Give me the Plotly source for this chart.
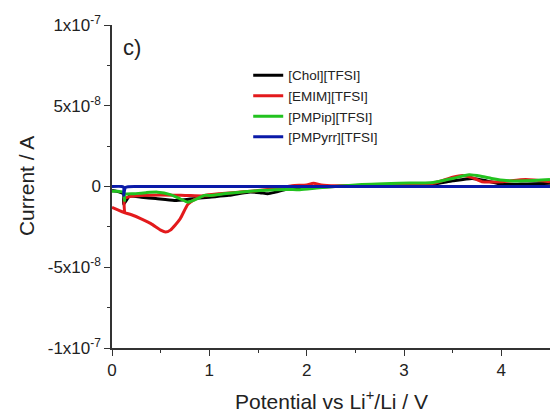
import plotly.graph_objects as go

# ---- data (V, A) ; None separates scan branches ----
chol_x = [0.0, 0.05, 0.10, 0.12, 0.12, 0.18, 0.30, 0.45, 0.64, 0.80, 1.00, 1.20, 1.40, 1.52, 1.60, 1.68, 1.80, 2.00, 2.30, 2.60, 3.00, 3.30, 3.50, 3.70, 3.85, 4.00, 4.20, 4.50]
chol_y = [-0.25e-8, -0.3e-8, -0.4e-8, -0.45e-8, -1.1e-8, -0.6e-8, -0.66e-8, -0.75e-8, -0.86e-8, -0.78e-8, -0.66e-8, -0.55e-8, -0.35e-8, -0.38e-8, -0.45e-8, -0.35e-8, -0.15e-8, -0.05e-8, 0.0, 0.05e-8, 0.1e-8, 0.15e-8, 0.35e-8, 0.5e-8, 0.35e-8, 0.15e-8, 0.15e-8, 0.2e-8]

emim_x = [0.0, 0.06, 0.12, 0.20, 0.30, 0.40, 0.50, 0.55, 0.60, 0.70, 0.78, 0.85, 0.95, 1.10, 1.30, 1.50, 1.70, 1.85, 2.00, 2.07, 2.15, 2.30, 2.60, 3.00, 3.30, 3.50, 3.60, 3.70, 3.80, 4.00, 4.25, 4.50,
          None, 0.13, 0.13, 0.20, 0.30, 0.50, 0.75, 0.95, 1.10]
emim_y = [-1.3e-8, -1.45e-8, -1.6e-8, -1.75e-8, -2.0e-8, -2.3e-8, -2.7e-8, -2.82e-8, -2.7e-8, -2.0e-8, -1.1e-8, -0.8e-8, -0.55e-8, -0.45e-8, -0.35e-8, -0.25e-8, -0.1e-8, 0.05e-8, 0.1e-8, 0.2e-8, 0.1e-8, 0.05e-8, 0.05e-8, 0.1e-8, 0.2e-8, 0.57e-8, 0.68e-8, 0.55e-8, 0.3e-8, 0.3e-8, 0.43e-8, 0.3e-8,
          None, -1.65e-8, -0.75e-8, -0.6e-8, -0.55e-8, -0.52e-8, -0.55e-8, -0.58e-8, -0.48e-8]

pmpip_x = [0.0, 0.06, 0.12, 0.13, 0.13, 0.23, 0.35, 0.47, 0.60, 0.70, 0.78, 0.86, 0.95, 1.00, 1.20, 1.52, 1.80, 1.93, 2.13, 2.50, 2.95, 3.30, 3.50, 3.67, 3.80, 3.90, 4.05, 4.25, 4.50]
pmpip_y = [-0.29e-8, -0.3e-8, -0.35e-8, -0.86e-8, -0.5e-8, -0.45e-8, -0.38e-8, -0.35e-8, -0.5e-8, -0.76e-8, -0.97e-8, -0.8e-8, -0.55e-8, -0.55e-8, -0.42e-8, -0.25e-8, -0.18e-8, -0.2e-8, -0.08e-8, 0.1e-8, 0.2e-8, 0.25e-8, 0.5e-8, 0.72e-8, 0.62e-8, 0.5e-8, 0.37e-8, 0.35e-8, 0.43e-8]

pmpyrr_x = [0.0, 0.10, 0.12, 0.12, 0.14, 0.30, 1.00, 2.00, 3.00, 4.00, 4.50]
pmpyrr_y = [0.0, 0.0, -0.05e-8, -0.55e-8, -0.05e-8, 0.0, 0.0, 0.0, 0.0, 0.0, 0.0]

series_names = ["[Chol][TFSI]", "[EMIM][TFSI]", "[PMPip][TFSI]", "[PMPyrr][TFSI]"]
series_x = [chol_x, emim_x, pmpip_x, pmpyrr_x]
series_y = [chol_y, emim_y, pmpip_y, pmpyrr_y]
series_colors = ["#000000", "#e31a1c", "#22c21f", "#0a1aa8"]

y_tickvals = [-1e-7, -5e-8, 0, 5e-8, 1e-7]
y_ticktext = ["-1x10<sup>-7</sup>", "-5x10<sup>-8</sup>", "0", "5x10<sup>-8</sup>", "1x10<sup>-7</sup>"]
x_tickvals = [0, 1, 2, 3, 4]
x_ticktext = ["0", "1", "2", "3", "4"]

FONT = "Liberation Sans, Arial, sans-serif"
AX = "#333333"
TXT = "#222222"

fig = go.Figure()
for name, xs, ys, c in zip(series_names, series_x, series_y, series_colors):
    fig.add_trace(go.Scatter(x=xs, y=ys, mode="lines", name=name,
                             line=dict(color=c, width=3, shape="spline", smoothing=0.6),
                             connectgaps=False))

common = dict(showgrid=False, zeroline=False, showline=True, linecolor=AX, linewidth=1.5,
              tickcolor=AX, tickwidth=1.2, automargin=False)

fig.update_layout(
    width=553, height=416,
    margin=dict(l=112, r=3, t=25, b=68),
    paper_bgcolor="white", plot_bgcolor="white",
    font=dict(family=FONT, color=TXT),
    showlegend=True,
    legend=dict(x=0.311, y=0.892, xanchor="left", yanchor="top",
                bgcolor="rgba(0,0,0,0)", font=dict(size=13.5, family=FONT, color=TXT),
                tracegroupgap=0, itemwidth=30),
    xaxis=dict(range=[0, 4.5], tickvals=x_tickvals, ticktext=x_ticktext, ticks="outside", ticklen=6,
               tickfont=dict(size=17, family=FONT, color=TXT),
               minor=dict(tickvals=[0.5, 1.5, 2.5, 3.5], ticks="outside", ticklen=3, tickcolor=AX),
               **common),
    yaxis=dict(range=[-1e-7, 1e-7], tickvals=y_tickvals, ticktext=y_ticktext, ticks="outside", ticklen=6,
               tickfont=dict(size=17, family=FONT, color=TXT),
               minor=dict(tickvals=[-7.5e-8, -2.5e-8, 2.5e-8, 7.5e-8], ticks="outside", ticklen=3, tickcolor=AX),
               **common),
    xaxis2=dict(overlaying="x", side="top", range=[0, 4.5], tickvals=x_tickvals, ticks="inside", ticklen=5,
                showticklabels=False, minor=dict(tickvals=[0.5, 1.5, 2.5, 3.5], ticks="inside", ticklen=3, tickcolor=AX),
                **common),
    yaxis2=dict(overlaying="y", side="right", range=[-1e-7, 1e-7], tickvals=y_tickvals, ticks="inside", ticklen=5,
                showticklabels=False, minor=dict(tickvals=[-7.5e-8, -2.5e-8, 2.5e-8, 7.5e-8], ticks="inside", ticklen=3, tickcolor=AX),
                **common),
    annotations=[
        dict(text="c)", x=0.02, y=0.93, xref="paper", yref="paper", xanchor="left", yanchor="middle",
             showarrow=False, font=dict(size=22, family=FONT, color=TXT)),
        dict(text="Potential vs Li<sup>+</sup>/Li / V", x=0.5, y=-0.16, xref="paper", yref="paper",
             xanchor="center", yanchor="middle", showarrow=False, font=dict(size=21, family=FONT, color=TXT)),
        dict(text="Current / A", x=-0.195, y=0.5, xref="paper", yref="paper", textangle=-90,
             xanchor="center", yanchor="middle", showarrow=False, font=dict(size=21, family=FONT, color=TXT)),
    ],
)

fig.write_html("out.html", config={"displayModeBar": False},
               post_script="document.body.style.margin='0';")
